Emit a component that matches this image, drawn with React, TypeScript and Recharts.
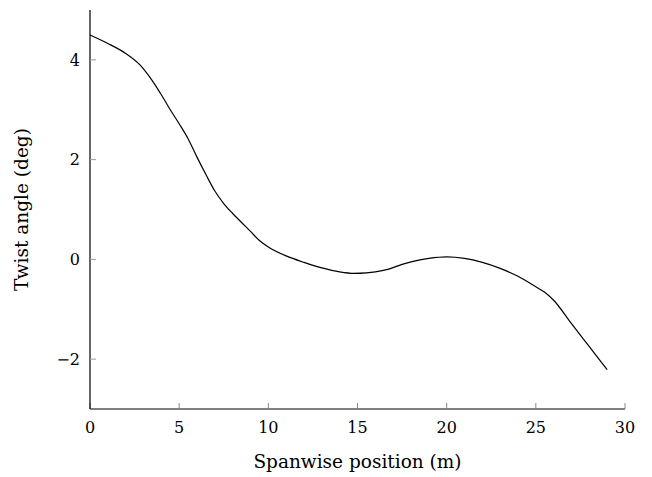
import { Line, LineChart, XAxis, YAxis } from "recharts";

const SPAN = [0, 1, 2, 2.8, 3.5, 4, 4.5, 5, 5.5, 6, 6.5, 7, 7.5, 8, 8.5, 9, 9.5, 10, 11, 12, 13, 14, 14.8, 15.5, 16, 16.7, 17.5, 18, 19, 20, 21, 22, 23, 24, 25, 25.5, 26, 27, 28, 29];
const TWIST = [4.5, 4.33, 4.13, 3.9, 3.58, 3.3, 3.0, 2.72, 2.42, 2.05, 1.7, 1.37, 1.12, 0.92, 0.74, 0.56, 0.38, 0.25, 0.07, -0.06, -0.17, -0.25, -0.28, -0.27, -0.25, -0.2, -0.1, -0.05, 0.02, 0.05, 0.02, -0.06, -0.18, -0.34, -0.55, -0.66, -0.82, -1.29, -1.75, -2.21];
const X_TICKS = [0, 5, 10, 15, 20, 25, 30];
const Y_TICKS = [-2, 0, 2, 4];

const FONT = "'DejaVu Serif', serif";
const tickStyle = { fill: "#000", fontSize: 16, fontFamily: FONT };

const fmt = (v: number) => (v < 0 ? `\u2212${-v}` : `${v}`);

function YLabel({ viewBox }: any) {
  const cx = 28;
  const cy = viewBox.y + viewBox.height / 2;
  return (
    <text x={cx} y={cy} transform={`rotate(-90 ${cx} ${cy})`} textAnchor="middle" fontSize={18.5} fontFamily={FONT} fill="#000">
      Twist angle (deg)
    </text>
  );
}

export default function App() {
  const data = SPAN.map((x, i) => ({ x, twist: TWIST[i] }));
  return (
    <div style={{ position: "absolute", left: 0, top: 0, background: "#fff" }}>
      <LineChart width={652} height={477} data={data} margin={{ top: 10, right: 27, bottom: 0, left: 0 }}>
        <XAxis
          dataKey="x"
          type="number"
          domain={[0, 30]}
          ticks={X_TICKS}
          height={68}
          tick={tickStyle}
          tickSize={-6}
          tickMargin={19}
          tickLine={{ stroke: "#888" }}
          axisLine={{ stroke: "#000", strokeWidth: 1.2 }}
          label={{ value: "Spanwise position (m)", position: "insideBottom", offset: 9, fontSize: 18.5, fontFamily: FONT, fill: "#000" }}
        />
        <YAxis
          type="number"
          domain={[-3, 5]}
          ticks={Y_TICKS}
          width={90}
          tick={tickStyle}
          tickSize={-6}
          tickMargin={16}
          tickFormatter={fmt}
          tickLine={{ stroke: "#999" }}
          axisLine={{ stroke: "#000", strokeWidth: 1.2 }}
          label={<YLabel />}
        />
        <Line type="monotone" dataKey="twist" stroke="#000" strokeWidth={1.2} dot={false} isAnimationActive={false} />
      </LineChart>
    </div>
  );
}
